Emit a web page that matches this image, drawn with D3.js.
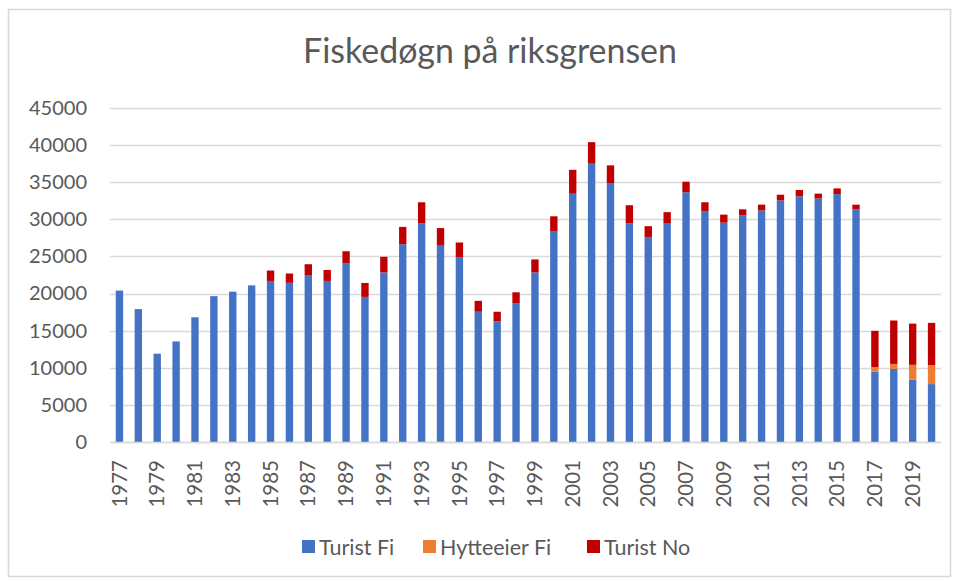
<!DOCTYPE html>
<html>
<head>
<meta charset="utf-8">
<script src="https://cdn.jsdelivr.net/npm/d3@7"></script>
<style>
  html, body { margin: 0; padding: 0; background: #fff; }
  svg { display: block; }
  text { font-family: Lato, "Open Sans", sans-serif; }
</style>
</head>
<body>
<svg id="chart" width="958" height="581"></svg>
<script>
const years = d3.range(1977, 2021).map(String);
const turistFi = [20400, 17900, 11900, 13550, 16800, 19650, 20250, 21100, 21700, 21450,
  22500, 21700, 24100, 19550, 22850, 26650, 29450, 26450, 24900, 17550,
  16250, 18650, 22850, 28350, 33450, 37500, 34900, 29450, 27600, 29500,
  33650, 31100, 29550, 30550, 31200, 32550, 33100, 32800, 33400, 31350,
  9500, 9850, 8400, 7800];
const hytteeierFi = [0, 0, 0, 0, 0, 0, 0, 0, 0, 0,
  0, 0, 0, 0, 0, 0, 0, 0, 0, 0,
  0, 0, 0, 0, 0, 0, 0, 0, 0, 0,
  0, 0, 0, 0, 0, 0, 0, 0, 0, 0,
  580, 670, 2000, 2550];
const turistNo = [0, 0, 0, 0, 0, 0, 0, 0, 1400, 1250,
  1450, 1480, 1600, 1880, 2100, 2330, 2850, 2370, 1980, 1470,
  1300, 1520, 1750, 2060, 3220, 2900, 2370, 2450, 1480, 1470,
  1420, 1200, 1080, 800, 780, 770, 850, 660, 770, 630,
  4900, 5850, 5550, 5700];
const seriesNames = ["Turist Fi", "Hytteeier Fi", "Turist No"];
const seriesColors = ["#4472C4", "#ED7D31", "#C00000"];
const yTicks = [0, 5000, 10000, 15000, 20000, 25000, 30000, 35000, 40000, 45000];
const chartTitle = "Fiskedøgn på riksgrensen";

const svg = d3.select("#chart");
const W = 958, H = 581;
const m = { left: 110, right: 17, top: 108, bottom: 139 };

// outer border
svg.append("rect").attr("x", 8.5).attr("y", 9.5).attr("width", 942).attr("height", 567)
  .attr("fill", "#fff").attr("stroke", "#d9d9d9").attr("stroke-width", 1.6);

const rows = years.map((y, i) => ({ year: y, "Turist Fi": turistFi[i], "Hytteeier Fi": hytteeierFi[i], "Turist No": turistNo[i] }));
const stack = d3.stack().keys(seriesNames)(rows);

const x = d3.scaleBand().domain(years).range([m.left, W - m.right]).paddingInner(0.61).paddingOuter(0.305);
const y = d3.scaleLinear().domain([0, 45000]).range([H - m.bottom, m.top]);

// gridlines
svg.append("g").selectAll("line").data(yTicks).join("line")
  .attr("x1", m.left).attr("x2", W - m.right)
  .attr("y1", d => Math.round(y(d)) + 0.5).attr("y2", d => Math.round(y(d)) + 0.5)
  .attr("stroke", "#d9d9d9").attr("stroke-width", 1.3);

// y labels
const yAxis = d3.axisLeft(y).tickValues(yTicks).tickSize(0).tickPadding(0).tickFormat(d3.format("d"));
const gy = svg.append("g").attr("transform", `translate(87,0)`).call(yAxis);
gy.select(".domain").remove();
gy.selectAll("text").attr("fill", "#595959").style("font-size", "20px").style("font-family", "Lato, sans-serif");

// bars
svg.append("g").selectAll("g").data(stack).join("g")
  .attr("fill", (d, i) => seriesColors[i])
  .selectAll("rect").data(d => d).join("rect")
  .attr("x", d => x(d.data.year))
  .attr("width", x.bandwidth())
  .attr("y", d => y(d[1]))
  .attr("height", d => Math.max(0, y(d[0]) - y(d[1])));

// x axis
const xAxis = d3.axisBottom(x).tickValues(years.filter((d, i) => i % 2 === 0)).tickSize(0).tickPadding(0);
const gx = svg.append("g").attr("transform", `translate(0,${H - m.bottom})`).call(xAxis);
gx.select(".domain").attr("stroke", "#d9d9d9").attr("stroke-width", 1.3);
gx.selectAll("text")
  .attr("fill", "#595959").style("font-size", "20.5px").style("font-family", "Lato, sans-serif")
  .attr("text-anchor", "end").attr("dy", "0.35em")
  .attr("transform", "translate(0,18) rotate(-90)")
  .attr("x", 0).attr("y", 0);

// title, sized to the reference width
const title = svg.append("text").attr("x", 490).attr("y", 63).attr("text-anchor", "middle")
  .attr("fill", "#595959").style("font-size", "32px").style("font-weight", 400)
  .text(chartTitle);
const tw = title.node().getComputedTextLength();
title.style("font-size", (32 * 374 / tw).toFixed(2) + "px");

// legend
const legendX = [302, 423, 587];
const lg = svg.append("g").selectAll("g").data(seriesNames).join("g")
  .attr("transform", (d, i) => `translate(${legendX[i]},540)`);
lg.append("rect").attr("width", 13).attr("height", 13).attr("fill", (d, i) => seriesColors[i]);
lg.append("text").attr("x", 17).attr("y", 7).attr("dy", "0.35em").attr("fill", "#595959")
  .style("font-size", "21.5px").text(d => d);
</script>
</body>
</html>
